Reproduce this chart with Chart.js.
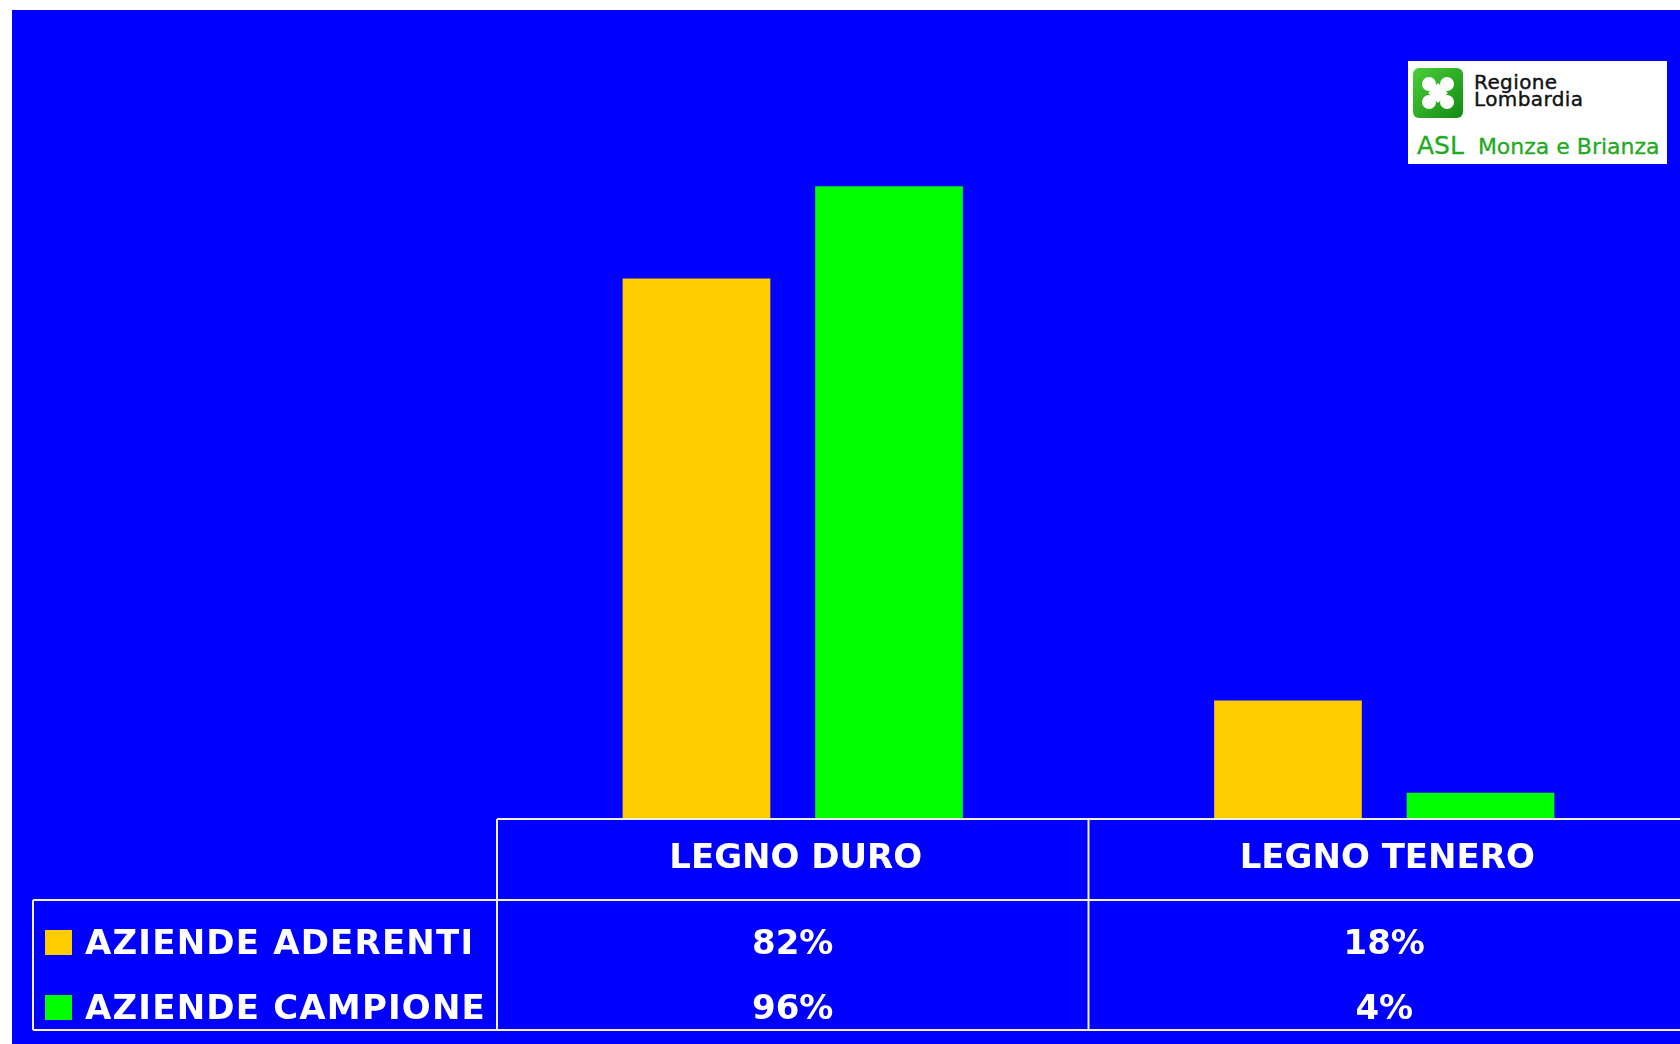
<!DOCTYPE html>
<html>
<head>
<meta charset="utf-8">
<script src="https://cdn.jsdelivr.net/npm/chart.js@4"></script>
<style>
  html, body { margin: 0; padding: 0; background: #ffffff; width: 1680px; height: 1044px; overflow: hidden; }
  #panel { position: absolute; left: 12px; top: 10px; width: 1668px; height: 1034px; background: #0000ff; }
  #grafico { position: absolute; left: 0; top: 0; }
  #logo { position: absolute; left: 1396px; top: 51px; width: 259px; height: 103px; background: #ffffff; font-family: "DejaVu Sans", sans-serif; }
  #logo svg { position: absolute; left: 5px; top: 7px; }
  #logo .reg { position: absolute; left: 66px; top: 13px; font-size: 20px; line-height: 17px; color: #111111; letter-spacing: 0.4px; -webkit-text-stroke: 0.4px #111111; }
  #logo .asl { position: absolute; left: 9px; top: 74px; font-size: 22px; line-height: 22px; color: #22aa22; white-space: nowrap; -webkit-text-stroke: 0.3px #22aa22; }
  #logo .asl span { font-size: 25px; }
</style>
</head>
<body>
<div id="panel">
  <canvas id="grafico" width="1668" height="1034"></canvas>
  <div id="logo">
    <svg width="50" height="50" viewBox="0 0 50 50">
      <defs>
        <linearGradient id="gv" x1="0" y1="0" x2="1" y2="1">
          <stop offset="0" stop-color="#4ccf3a"/>
          <stop offset="1" stop-color="#118a11"/>
        </linearGradient>
      </defs>
      <rect x="0" y="0" width="50" height="50" rx="6" fill="url(#gv)"/>
      <g fill="#ffffff">
        <circle cx="16" cy="16" r="7"/>
        <circle cx="34" cy="16" r="7"/>
        <circle cx="16" cy="34" r="7"/>
        <circle cx="34" cy="34" r="7"/>
        <rect x="18" y="18" width="14" height="14" transform="rotate(45 25 25)"/>
      </g>
    </svg>
    <div class="reg">Regione<br>Lombardia</div>
    <div class="asl"><span>ASL</span>&nbsp; Monza e Brianza</div>
  </div>
</div>
<script>
const categorie = ['LEGNO DURO', 'LEGNO TENERO'];
const aderenti = [82, 18];
const campione = [96, 4];
const serie = ['AZIENDE ADERENTI', 'AZIENDE CAMPIONE'];
const colori = ['#ffcc00', '#00ff00'];

const fontTabella = 'bold 34px "Comic Sans MS", "DejaVu Sans", sans-serif';

// tabella dati sotto il grafico (intestazioni, legenda, valori)
const tabellaDati = {
    id: 'tabellaDati',
    afterDraw(chart) {
        const ctx = chart.ctx;
        const area = chart.chartArea;
        const x = chart.scales.x;
        const passo = x.width / chart.data.labels.length;
        const yTop = area.bottom;
        const yMid = yTop + 81;
        const yBot = yTop + 211;
        const xLeg = 21;
        const righe = [yTop + 124, yTop + 189];

        ctx.save();
        ctx.strokeStyle = '#f0f0f0';
        ctx.lineWidth = 2;
        ctx.beginPath();
        ctx.moveTo(area.left, yTop); ctx.lineTo(chart.width, yTop);
        ctx.moveTo(xLeg, yMid); ctx.lineTo(chart.width, yMid);
        ctx.moveTo(xLeg, yBot); ctx.lineTo(chart.width, yBot);
        ctx.moveTo(xLeg, yMid); ctx.lineTo(xLeg, yBot);
        chart.data.labels.forEach((l, i) => {
            const bordo = x.getPixelForTick(i) - passo / 2;
            ctx.moveTo(bordo, yTop); ctx.lineTo(bordo, yBot);
        });
        ctx.stroke();

        ctx.font = fontTabella;
        ctx.fillStyle = '#ffffff';
        ctx.textBaseline = 'middle';
        ctx.textAlign = 'center';
        chart.data.labels.forEach((l, i) => {
            const cx = x.getPixelForTick(i);
            ctx.fillText(l, cx + 3, yTop + 40);
            chart.data.datasets.forEach((ds, j) => {
                ctx.fillText(ds.data[i] + '%', cx, righe[j] + 2);
            });
        });

        ctx.textAlign = 'left';
        ctx.letterSpacing = '1.2px';
        chart.data.datasets.forEach((ds, j) => {
            ctx.fillStyle = ds.backgroundColor;
            ctx.fillRect(33, righe[j] - 13, 27, 25);
            ctx.fillStyle = '#ffffff';
            ctx.fillText(ds.label, 73, righe[j] + 2);
        });
        ctx.restore();
    }
};

const grafico = new Chart(
    document.getElementById('grafico'),
    {
        type: 'bar',
        data: {
            labels: categorie,
            datasets: [
                { label: serie[0], data: aderenti, backgroundColor: colori[0] },
                { label: serie[1], data: campione, backgroundColor: colori[1] }
            ]
        },
        options: {
            responsive: false,
            animation: false,
            devicePixelRatio: 1,
            categoryPercentage: 0.651,
            barPercentage: 0.767,
            layout: {
                padding: { left: 485, top: 150, right: 0, bottom: 225 }
            },
            plugins: {
                legend: { display: false },
                tooltip: { enabled: false }
            },
            scales: {
                x: { display: false },
                y: { display: false, min: 0, max: 100 }
            }
        },
        plugins: [tabellaDati]
    }
)
</script>
</body>
</html>
